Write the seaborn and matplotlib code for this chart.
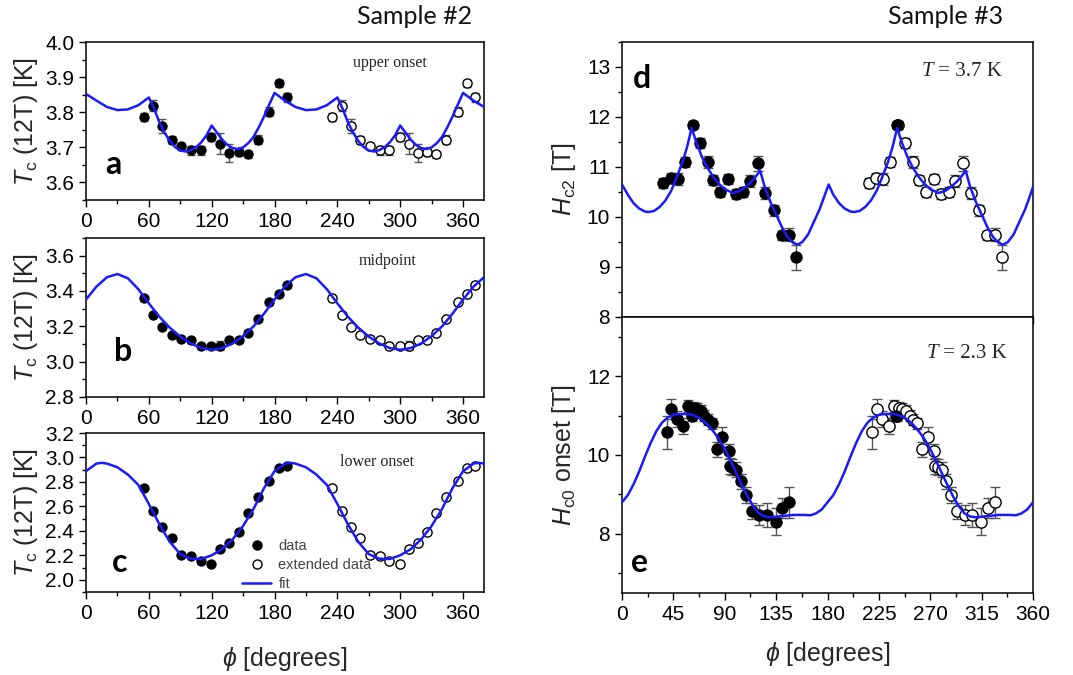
import matplotlib
matplotlib.use("Agg")
import matplotlib.pyplot as plt
import seaborn as sns
from matplotlib.ticker import MultipleLocator
from matplotlib.lines import Line2D

# ---------------- data ----------------
# Sample #2 angles (data) and extended angles
phi_s2 = [55, 64, 73, 82, 91, 100.5, 109.5, 119.5, 128, 137, 146, 154.5, 164, 175, 184, 191.5]
phi_s2_ext = [235, 244, 253, 262, 271, 280.5, 289.5, 299.5, 308, 317, 326, 334.5, 344, 355, 364, 371.5]

# panel a: upper onset
tc_a = [3.787, 3.819, 3.761, 3.721, 3.703, 3.691, 3.691, 3.730, 3.710, 3.684, 3.686, 3.680, 3.722, 3.802, 3.883, 3.842]
err_a = [0.012, 0.015, 0.02, 0.012, 0.01, 0.012, 0.012, 0.012, 0.03, 0.025, 0.01, 0.01, 0.012, 0.012, 0.01, 0.012]
tc_a_ext = [3.787, 3.819, 3.761, 3.721, 3.703, 3.691, 3.691, 3.730, 3.710, 3.684, 3.686, 3.680, 3.722, 3.802, 3.883, 3.842]
fit_a_phi = [0, 10, 20, 30, 40, 50, 60, 65, 70, 75, 80, 85, 90, 95, 100, 105, 110, 115, 120,
             125, 130, 135, 140, 145, 150, 155, 160, 165, 170, 175, 180,
             190, 200, 210, 220, 230, 240, 245, 250, 255, 260, 265, 270, 275, 280, 285, 290, 295, 300,
             305, 310, 315, 320, 325, 330, 335, 340, 345, 350, 355, 360, 370, 380]
fit_a_val = [3.852, 3.833, 3.815, 3.806, 3.808, 3.820, 3.842, 3.810, 3.772, 3.742, 3.718, 3.701, 3.691, 3.688, 3.692, 3.700, 3.714, 3.734, 3.762,
             3.742, 3.722, 3.707, 3.698, 3.695, 3.700, 3.712, 3.730, 3.757, 3.788, 3.822, 3.855,
             3.833, 3.815, 3.806, 3.808, 3.820, 3.842, 3.810, 3.772, 3.742, 3.718, 3.701, 3.691, 3.688, 3.692, 3.700, 3.714, 3.734, 3.762,
             3.742, 3.722, 3.707, 3.698, 3.695, 3.700, 3.712, 3.730, 3.757, 3.788, 3.822, 3.855, 3.833, 3.815]

# panel b: midpoint
tc_b = [3.358, 3.263, 3.197, 3.150, 3.131, 3.122, 3.091, 3.089, 3.091, 3.125, 3.125, 3.163, 3.242, 3.335, 3.383, 3.432]
err_b = [0.012, 0.012, 0.012, 0.01, 0.01, 0.01, 0.01, 0.012, 0.025, 0.01, 0.01, 0.01, 0.012, 0.012, 0.012, 0.015]
tc_b_ext = [3.358, 3.263, 3.197, 3.150, 3.131, 3.122, 3.091, 3.089, 3.091, 3.125, 3.125, 3.163, 3.242, 3.335, 3.383, 3.432]
fit_b_phi = [0, 10, 20, 30, 40, 50, 60, 70, 80, 90, 100, 110, 120, 130, 140, 150, 160, 170,
             180, 190, 200, 210, 220, 230, 240, 250, 260, 270, 280, 290, 300, 310, 320, 330, 340, 350,
             360, 370, 380]
fit_b_val = [3.352, 3.425, 3.478, 3.496, 3.472, 3.410, 3.330, 3.255, 3.192, 3.142, 3.103, 3.077, 3.067, 3.077, 3.103, 3.145, 3.200, 3.272,
             3.352, 3.425, 3.478, 3.496, 3.472, 3.410, 3.330, 3.255, 3.192, 3.142, 3.103, 3.077, 3.067, 3.077, 3.103, 3.145, 3.200, 3.272,
             3.352, 3.425, 3.478]

# panel c: lower onset
tc_c = [2.747, 2.562, 2.434, 2.339, 2.204, 2.196, 2.155, 2.128, 2.250, 2.304, 2.394, 2.543, 2.679, 2.806, 2.910, 2.928]
err_c = [0.01] * 16
tc_c_ext = [2.747, 2.562, 2.434, 2.339, 2.204, 2.196, 2.155, 2.128, 2.250, 2.304, 2.394, 2.543, 2.679, 2.806, 2.910, 2.928]
fit_c_phi = [0, 10, 15, 20, 30, 40, 50, 60, 70, 80, 90, 100, 110, 120, 130, 140, 150, 160, 170,
             180, 190, 195, 200, 210, 220, 230, 240, 250, 260, 270, 280, 290, 300, 310, 320, 330, 340, 350,
             360, 370, 375, 380]
fit_c_val = [2.888, 2.950, 2.956, 2.950, 2.920, 2.860, 2.775, 2.620, 2.455, 2.310, 2.210, 2.172, 2.170, 2.200, 2.250, 2.330, 2.440, 2.580, 2.750,
             2.888, 2.950, 2.956, 2.950, 2.920, 2.860, 2.775, 2.620, 2.455, 2.310, 2.210, 2.172, 2.170, 2.200, 2.250, 2.330, 2.440, 2.580, 2.750,
             2.888, 2.950, 2.956, 2.950]

# panel d: Hc2 at T = 3.7 K (Sample #3)
phi_d = [36, 42.5, 49, 55, 62, 68, 75, 80, 86, 93, 99.5, 106, 112, 119, 125.5, 133, 140, 146.5, 152.5, 241]
hc2_d = [10.68, 10.78, 10.77, 11.10, 11.85, 11.48, 11.10, 10.75, 10.50, 10.77, 10.47, 10.50, 10.72, 11.08, 10.48, 10.13, 9.63, 9.65, 9.20, 11.85]
err_d = [0.1, 0.1, 0.12, 0.1, 0.08, 0.1, 0.12, 0.1, 0.1, 0.1, 0.1, 0.1, 0.12, 0.15, 0.12, 0.12, 0.1, 0.13, 0.25, 0.08]
phi_d_ext = [216, 222.5, 229, 235, 242, 248, 255, 260, 266, 273, 279.5, 286, 292, 299, 305.5, 313, 320, 326.5, 332.5]
hc2_d_ext = [10.68, 10.78, 10.77, 11.10, 11.85, 11.48, 11.10, 10.75, 10.50, 10.77, 10.47, 10.50, 10.72, 11.08, 10.48, 10.13, 9.63, 9.65, 9.20]
err_d_ext = [0.1, 0.1, 0.12, 0.1, 0.08, 0.1, 0.12, 0.1, 0.1, 0.1, 0.1, 0.1, 0.12, 0.15, 0.12, 0.12, 0.1, 0.13, 0.25]
fit_d_phi = [0, 5, 10, 15, 20, 23, 28, 33, 38, 43, 48, 53, 57, 61, 65, 70, 75, 80, 85, 90, 97, 103, 108, 113, 117, 121,
             125, 130, 135, 140, 145, 150, 154, 158, 163, 168, 173, 177,
             181, 185, 190, 195, 200, 203, 208, 213, 218, 223, 228, 233, 237, 241, 245, 250, 255, 260, 265, 270, 277, 283, 288, 293, 297, 301,
             305, 310, 315, 320, 325, 330, 334, 338, 343, 348, 353, 357, 360]
fit_d_val = [10.65, 10.45, 10.28, 10.17, 10.11, 10.10, 10.12, 10.20, 10.33, 10.52, 10.80, 11.10, 11.40, 11.78, 11.50, 11.20, 10.98, 10.80, 10.66, 10.56, 10.48, 10.52, 10.60, 10.70, 10.80, 10.93,
             10.60, 10.30, 10.05, 9.80, 9.60, 9.48, 9.45, 9.50, 9.65, 9.90, 10.15, 10.40,
             10.65, 10.45, 10.28, 10.17, 10.11, 10.10, 10.12, 10.20, 10.33, 10.52, 10.80, 11.10, 11.40, 11.78, 11.50, 11.20, 10.98, 10.80, 10.66, 10.56, 10.48, 10.52, 10.60, 10.70, 10.80, 10.93,
             10.60, 10.30, 10.05, 9.80, 9.60, 9.48, 9.45, 9.50, 9.65, 9.90, 10.15, 10.40, 10.60]

# panel e: Hc0 onset at T = 2.3 K (Sample #3)
phi_e = [39, 43, 48, 53.5, 58, 61, 63, 65.5, 69, 72, 75, 78.5, 83, 88, 93.5, 94.5, 96.5, 100, 104, 108.5, 113.5, 120, 127, 134.5, 140.5, 146.5, 240]
hc0_e = [10.58, 11.17, 10.92, 10.73, 11.24, 11.00, 11.19, 11.17, 11.11, 11.00, 10.90, 10.80, 10.14, 10.46, 10.09, 9.73, 9.69, 9.63, 9.33, 8.99, 8.57, 8.48, 8.48, 8.31, 8.65, 8.80, 11.00]
err_e = [0.42, 0.25, 0.2, 0.2, 0.15, 0.15, 0.15, 0.15, 0.15, 0.15, 0.15, 0.15, 0.2, 0.25, 0.2, 0.2, 0.2, 0.2, 0.2, 0.2, 0.2, 0.25, 0.3, 0.35, 0.25, 0.4, 0.1]
phi_e_ext = [219, 223, 228, 233.5, 238, 241, 243, 245.5, 249, 252, 255, 258.5, 263, 268, 273.5, 274.5, 276.5, 280, 284, 288.5, 293.5, 300, 307, 314.5, 320.5, 326.5]
hc0_e_ext = [10.58, 11.17, 10.92, 10.73, 11.24, 11.00, 11.19, 11.17, 11.11, 11.00, 10.90, 10.80, 10.14, 10.46, 10.09, 9.73, 9.69, 9.63, 9.33, 8.99, 8.57, 8.48, 8.48, 8.31, 8.65, 8.80]
err_e_ext = [0.42, 0.25, 0.2, 0.2, 0.15, 0.15, 0.15, 0.15, 0.15, 0.15, 0.15, 0.15, 0.2, 0.25, 0.2, 0.2, 0.2, 0.2, 0.2, 0.2, 0.2, 0.25, 0.3, 0.35, 0.25, 0.4]
fit_e_phi = [0, 5, 10, 15, 20, 25, 30, 35, 40, 45, 50, 55, 60, 65, 70, 75, 80, 85, 90, 95, 100, 105, 110, 115, 120, 125, 130,
             140, 150, 160, 165, 170, 175,
             180, 185, 190, 195, 200, 205, 210, 215, 220, 225, 230, 235, 240, 245, 250, 255, 260, 265, 270, 275, 280, 285, 290, 295, 300, 305, 310,
             320, 330, 340, 345, 350, 355, 360]
fit_e_val = [8.80, 8.98, 9.25, 9.58, 9.95, 10.30, 10.60, 10.82, 10.95, 11.02, 11.04, 11.04, 11.03, 10.98, 10.90, 10.77, 10.60, 10.40, 10.15, 9.86, 9.55, 9.24, 8.95, 8.70, 8.52, 8.44, 8.42,
             8.45, 8.48, 8.48, 8.47, 8.52, 8.62,
             8.80, 8.98, 9.25, 9.58, 9.95, 10.30, 10.60, 10.82, 10.95, 11.02, 11.04, 11.04, 11.03, 10.98, 10.90, 10.77, 10.60, 10.40, 10.15, 9.86, 9.55, 9.24, 8.95, 8.70, 8.52, 8.44, 8.42,
             8.45, 8.48, 8.48, 8.47, 8.52, 8.62, 8.80]

xticks_left = [0, 60, 120, 180, 240, 300, 360]
xticks_right = [0, 45, 90, 135, 180, 225, 270, 315, 360]

# ---------------- style ----------------
sns.set_theme(style="ticks")
plt.rcParams['font.family'] = ['Liberation Sans', 'DejaVu Sans']
plt.rcParams['mathtext.fontset'] = 'custom'
plt.rcParams['mathtext.rm'] = 'Liberation Sans'
plt.rcParams['mathtext.it'] = 'Liberation Sans:italic'

W, H = 1073, 675
fig = plt.figure(figsize=(W / 100, H / 100), dpi=100)
fig.patch.set_facecolor('white')

BLUE = '#1a1aff'
ECOL = '#555555'


def add_axes(l, t, r, b):
    return fig.add_axes([l / W, 1 - b / H, (r - l) / W, (b - t) / H])


def style_axis(ax, xmax, xmin, ylim, ymaj, ymin, show_xlabels=True, xticks=None):
    ax.set_xlim(0, xmax)
    ax.set_ylim(*ylim)
    ax.set_xticks(xticks)
    ax.xaxis.set_minor_locator(MultipleLocator(xmin))
    ax.yaxis.set_major_locator(MultipleLocator(ymaj))
    ax.yaxis.set_minor_locator(MultipleLocator(ymin))
    ax.tick_params(which='both', direction='out', top=False, right=False, colors='black',
                   labelsize=15, width=1.0)
    ax.tick_params(which='major', length=5)
    ax.tick_params(which='minor', length=3)
    if not show_xlabels:
        ax.tick_params(axis='x', labelbottom=False)
    for s in ax.spines.values():
        s.set_visible(True)
        s.set_color('black')
        s.set_linewidth(1.1)
    ax.set_facecolor('white')
    ax.set_xlabel('')
    ax.set_ylabel('')


def draw_panel(ax, x, y, e, xe, ye, ee, fx, fy, ms, cap):
    ax.errorbar(xe, ye, yerr=ee, fmt='none', ecolor=ECOL, elinewidth=1.0, capsize=cap, capthick=1.0, zorder=2)
    sns.scatterplot(x=xe, y=ye, ax=ax, color='white', edgecolor='black', linewidth=1.0, s=ms, zorder=3, legend=False)
    ax.errorbar(x, y, yerr=e, fmt='none', ecolor=ECOL, elinewidth=1.0, capsize=cap, capthick=1.0, zorder=2)
    sns.scatterplot(x=x, y=y, ax=ax, color='black', edgecolor='black', linewidth=0.8, s=ms, zorder=3, legend=False)
    sns.lineplot(x=fx, y=fy, ax=ax, color=BLUE, linewidth=1.8, sort=False, estimator=None, zorder=4)


ax_a = add_axes(86, 42, 484, 200)
ax_b = add_axes(86, 238, 484, 397)
ax_c = add_axes(86, 433, 484, 592)
ax_d = add_axes(622, 42, 1033, 317)
ax_e = add_axes(622, 317, 1033, 593)

draw_panel(ax_a, phi_s2, tc_a, err_a, phi_s2_ext, tc_a_ext, err_a, fit_a_phi, fit_a_val, 44, 3)
draw_panel(ax_b, phi_s2, tc_b, err_b, phi_s2_ext, tc_b_ext, err_b, fit_b_phi, fit_b_val, 44, 3)
draw_panel(ax_c, phi_s2, tc_c, err_c, phi_s2_ext, tc_c_ext, err_c, fit_c_phi, fit_c_val, 44, 3)
draw_panel(ax_d, phi_d, hc2_d, err_d, phi_d_ext, hc2_d_ext, err_d_ext, fit_d_phi, fit_d_val, 66, 3.5)
draw_panel(ax_e, phi_e, hc0_e, err_e, phi_e_ext, hc0_e_ext, err_e_ext, fit_e_phi, fit_e_val, 66, 3.5)

style_axis(ax_a, 380, 30, (3.55, 4.0), 0.1, 0.05, xticks=xticks_left)
style_axis(ax_b, 380, 30, (2.8, 3.7), 0.2, 0.1, xticks=xticks_left)
style_axis(ax_c, 380, 30, (1.9, 3.2), 0.2, 0.1, xticks=xticks_left)
style_axis(ax_d, 360, 22.5, (8, 13.5), 1, 0.5, show_xlabels=False, xticks=xticks_right)
style_axis(ax_e, 360, 22.5, (6.5, 13.5), 2, 1, xticks=xticks_right)
for ax in (ax_a, ax_b, ax_c):
    ax.yaxis.set_major_formatter(matplotlib.ticker.FormatStrFormatter('%.1f'))

# y labels
for ax in (ax_a, ax_b, ax_c):
    ax.set_ylabel(r'$T_{\mathrm{c}}$ (12T) [K]', fontsize=18, labelpad=4)
ax_d.set_ylabel(r'$H_{\mathrm{c2}}$ [T]', fontsize=18, labelpad=6)
ax_e.set_ylabel(r'$H_{\mathrm{c0}}$ onset [T]', fontsize=18, labelpad=6)

# x labels
ax_c.set_xlabel(r'$\phi$ [degrees]', fontsize=18, labelpad=16)
ax_e.set_xlabel(r'$\phi$ [degrees]', fontsize=18, labelpad=12)

# panel letters
letter_kw = dict(fontsize=23, fontweight='bold', family=['Lato', 'DejaVu Sans'], color='black')
fig.text(113 / W, 1 - 165 / H, 'a', ha='center', va='center', **letter_kw)
fig.text(123 / W, 1 - 352 / H, 'b', ha='center', va='center', **letter_kw)
fig.text(120 / W, 1 - 563 / H, 'c', ha='center', va='center', **letter_kw)
fig.text(642 / W, 1 - 78 / H, 'd', ha='center', va='center', **letter_kw)
fig.text(640 / W, 1 - 563 / H, 'e', ha='center', va='center', **letter_kw)

# annotations
serif = ['Liberation Serif', 'DejaVu Serif']
fig.text(390 / W, 1 - 63 / H, 'upper onset', ha='center', va='center', fontsize=11.5, family=serif, color='#222222')
fig.text(388 / W, 1 - 261 / H, 'midpoint', ha='center', va='center', fontsize=11.5, family=serif, color='#222222')
fig.text(377 / W, 1 - 462 / H, 'lower onset', ha='center', va='center', fontsize=11.5, family=serif, color='#222222')
for (tx, ty, rest) in [(933, 72, ' = 3.7 K'), (938, 353, ' = 2.3 K')]:
    fig.text(tx / W, 1 - ty / H, 'T', ha='right', va='center', fontsize=15, family=serif, style='italic')
    fig.text(tx / W, 1 - ty / H, rest, ha='left', va='center', fontsize=15, family=serif)

# sample titles
title_kw = dict(fontsize=18, family=['Lato', 'DejaVu Sans'], ha='center', va='center', color='#111111')
fig.text(415 / W, 1 - 16 / H, 'Sample #2', **title_kw)
fig.text(946 / W, 1 - 16 / H, 'Sample #3', **title_kw)

# legend in panel c
handles = [Line2D([], [], marker='o', linestyle='none', color='black', markersize=6.5),
           Line2D([], [], marker='o', linestyle='none', markerfacecolor='white', markeredgecolor='black', markersize=6.5),
           Line2D([], [], color=BLUE, linewidth=1.8)]
ax_c.legend(handles, ['data', 'extended data', 'fit'], loc='upper left', bbox_to_anchor=(0.37, 0.39),
            frameon=False, fontsize=10.5, labelcolor='#444444', handlelength=2.0, handletextpad=0.5,
            labelspacing=0.35, borderpad=0.1)

fig.savefig('out.png', dpi=100, facecolor='white')
